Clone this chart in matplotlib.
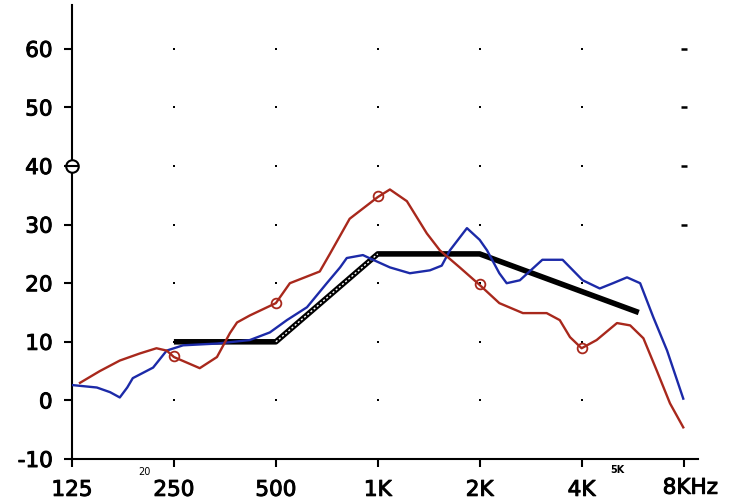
import numpy as np
import matplotlib
matplotlib.use('Agg')
import matplotlib.pyplot as plt
from matplotlib import ticker
import matplotlib.patheffects as pe

plt.rcParams['font.family'] = ['DejaVu Sans']
plt.rcParams['axes.unicode_minus'] = False

# frequency (Hz) / level (dB) traces
red_f = [132, 151, 173, 198, 222, 238, 250, 298, 335, 366, 384, 419, 500, 550,
         674, 722, 826, 1000, 1086, 1219, 1396, 1526, 1746, 2000, 2286, 2683,
         3154, 3448, 3696, 4000, 4430, 5088, 5566, 6090, 6667, 7296, 7986]
red_db = [3.0, 5.0, 6.8, 8.0, 8.9, 8.5, 7.4, 5.5, 7.4, 11.5, 13.3, 14.5, 16.6, 20.0,
          22.0, 25.0, 31.0, 34.7, 36.0, 34.0, 28.5, 25.6, 22.7, 19.7, 16.6, 14.9,
          14.9, 13.7, 10.8, 8.9, 10.3, 13.2, 12.8, 10.6, 5.1, -0.5, -4.6]

blue_f = [126, 148, 162, 173, 182, 189, 217, 238, 266, 335, 419, 480, 539, 618,
          707, 774, 810, 904, 968, 1086, 1244, 1426, 1545, 1633, 1834, 2000, 2103,
          2286, 2403, 2628, 3063, 3515, 4030, 4526, 4950, 5447, 5956, 6513, 7154, 7986]
blue_db = [2.6, 2.2, 1.4, 0.5, 2.2, 3.8, 5.6, 8.5, 9.4, 9.7, 10.3, 11.6, 13.7, 15.9,
           20.0, 22.7, 24.3, 24.8, 24.0, 22.7, 21.7, 22.2, 23.0, 25.6, 29.4, 27.4, 25.6,
           21.7, 20.0, 20.5, 24.0, 24.0, 20.5, 19.1, 20.0, 21.0, 20.0, 14.2, 8.5, 0.3]

# target curve
target_f = [250, 500, 1000, 2000, 5900]
target_db = [10, 10, 25, 25, 15]

# measured points on the red trace
mark_f = [250, 500, 1000, 2000, 4000]
mark_db = [7.5, 16.6, 34.8, 19.8, 8.9]

xticks = [125, 250, 500, 1000, 2000, 4000, 8000]
xlabels = ['125', '250', '500', '1K', '2K', '4K', '']
yticks = [-10, 0, 10, 20, 30, 40, 50, 60]

RED = '#a8281c'
BLUE = '#1c2aa8'
heavy = [pe.withStroke(linewidth=0.7, foreground='black')]

fig = plt.figure(figsize=(7.4, 5.04), dpi=100)
ax = fig.add_axes([0.0973, 0.0893, 0.846, 0.901])
ax.set_xscale('log', base=2)
ax.set_xlim(125, 8830)
ax.set_ylim(-10, 67.5)

# dotted grid
for f in xticks[1:-1]:
    ax.plot([f] * 7, range(0, 70, 10), ls='none', marker='s', ms=1.6,
            color='black', mew=0)
ax.plot([8000] * 4, [30, 40, 50, 60], ls='none', marker='_', ms=5,
        color='black', mew=1.8)

# target
ax.plot(target_f, target_db, color='black', lw=4, solid_capstyle='butt', zorder=3)
ax.plot(target_f[1:3], target_db[1:3], color='white', lw=1, ls=(0, (1.5, 1.5)), zorder=3)

ax.plot(blue_f, blue_db, color=BLUE, lw=1.7, zorder=4)
ax.plot(red_f, red_db, color=RED, lw=1.7, zorder=5)
ax.plot(mark_f, mark_db, ls='none', marker='o', ms=7, mfc='none',
        mec=RED, mew=1.3, zorder=6)

# symbol on the axis at 40 dB
ax.plot([125], [40], marker='o', ms=9, mfc='white', mec='black', mew=1.5,
        clip_on=False, zorder=7)
ax.plot([125], [40], marker='_', ms=9, mec='black', mew=1.5,
        clip_on=False, zorder=8)

ax.spines['top'].set_visible(False)
ax.spines['right'].set_visible(False)
ax.spines['left'].set_linewidth(1.5)
ax.spines['bottom'].set_linewidth(1.5)

ax.xaxis.set_major_locator(ticker.FixedLocator(xticks))
ax.xaxis.set_minor_locator(ticker.NullLocator())
ax.set_xticklabels(xlabels)
ax.set_yticks(yticks)
ax.tick_params(axis='both', direction='out', length=6, width=1.5, labelsize=15.5)
ax.tick_params(axis='x', pad=9)
ax.tick_params(axis='y', pad=8)
for lbl in ax.get_xticklabels() + ax.get_yticklabels():
    lbl.set_path_effects(heavy)

ax.annotate('8KHz', xy=(8000, 0), xycoords=('data', 'axes fraction'),
            xytext=(-15, -13.5), textcoords='offset points', ha='left', va='top',
            fontsize=15.5, path_effects=heavy)
ax.annotate('20', xy=(205, 0), xycoords=('data', 'axes fraction'),
            xytext=(0, -6), textcoords='offset points', ha='center', va='top',
            fontsize=7)
ax.annotate('5K', xy=(5100, 0), xycoords=('data', 'axes fraction'),
            xytext=(0, -4), textcoords='offset points', ha='center', va='top',
            fontsize=7, fontweight='bold')

fig.savefig('out.png', dpi=100)
